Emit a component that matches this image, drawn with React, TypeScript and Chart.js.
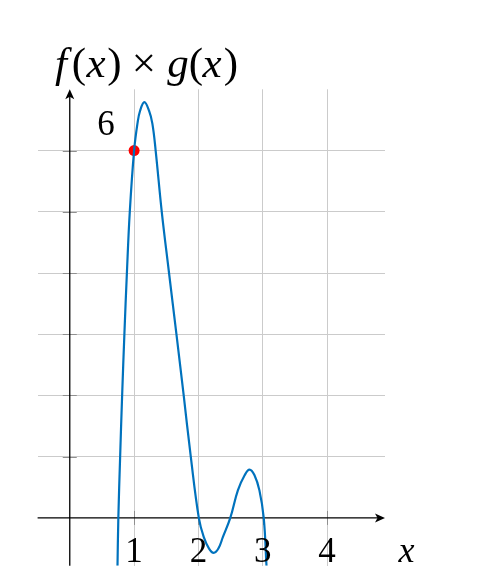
import React, { useEffect, useRef } from "react";
import { Chart, registerables } from "chart.js";

Chart.register(...registerables);

// Curve f(x) × g(x)
const curveX = [0.742, 0.755, 0.783, 0.814, 0.849, 0.888, 0.933, 1.0, 1.052, 1.093, 1.16, 1.232, 1.284, 1.335, 1.43, 1.543, 1.658, 1.771, 1.881, 2.006, 2.082, 2.165, 2.237, 2.31, 2.381, 2.495, 2.613, 2.72, 2.794, 2.87, 2.948, 3.015, 3.058];
const curveY = [-0.78, 0, 1, 2, 3, 4, 5, 6, 6.44, 6.65, 6.79, 6.65, 6.44, 6, 5, 4, 3, 2, 1, 0, -0.31, -0.5, -0.571, -0.5, -0.31, 0, 0.45, 0.7, 0.789, 0.7, 0.45, 0, -0.78];

// Highlighted point
const pointX = [1];
const pointY = [6];

// Ticks / grid
const xTicks = [1, 2, 3, 4];
const yTicks = [1, 2, 3, 4, 5, 6];
const xTickLabels = ["1", "2", "3", "4"];
const pointLabel = "6";
const xAxisLabel = "x";

const SERIF = '"Liberation Serif", "DejaVu Serif", serif';

const axesPlugin = {
  id: "texAxes",
  beforeDatasetsDraw(chart: any) {
    const { ctx, chartArea, scales } = chart;
    const xs = scales.x;
    const ys = scales.y;
    const x0 = xs.getPixelForValue(0);
    const y0 = ys.getPixelForValue(0);
    ctx.save();
    // tick marks
    ctx.strokeStyle = "#8f8f8f";
    ctx.lineWidth = 1;
    ctx.beginPath();
    for (const v of yTicks) {
      const py = Math.round(ys.getPixelForValue(v)) + 0.5;
      ctx.moveTo(x0 - 7, py);
      ctx.lineTo(x0 + 7, py);
    }
    for (const v of xTicks) {
      const px = Math.round(xs.getPixelForValue(v)) + 0.5;
      ctx.moveTo(px, y0 - 7);
      ctx.lineTo(px, y0 + 7);
    }
    ctx.stroke();
    // axis lines
    ctx.strokeStyle = "#000";
    ctx.lineWidth = 1.3;
    ctx.beginPath();
    ctx.moveTo(chartArea.left, y0);
    ctx.lineTo(chartArea.right - 3, y0);
    ctx.moveTo(x0, chartArea.bottom);
    ctx.lineTo(x0, chartArea.top + 3);
    ctx.stroke();
    // arrow heads
    ctx.fillStyle = "#000";
    const tipX = chartArea.right;
    ctx.beginPath();
    ctx.moveTo(tipX, y0);
    ctx.lineTo(tipX - 10, y0 - 4.5);
    ctx.lineTo(tipX - 7.5, y0);
    ctx.lineTo(tipX - 10, y0 + 4.5);
    ctx.closePath();
    ctx.fill();
    const tipY = chartArea.top;
    ctx.beginPath();
    ctx.moveTo(x0, tipY);
    ctx.lineTo(x0 - 4.5, tipY + 10);
    ctx.lineTo(x0, tipY + 7.5);
    ctx.lineTo(x0 + 4.5, tipY + 10);
    ctx.closePath();
    ctx.fill();
    ctx.restore();
  },
  afterDatasetsDraw(chart: any) {
    const { ctx, scales } = chart;
    const xs = scales.x;
    ctx.save();
    ctx.fillStyle = "#000";
    ctx.textAlign = "center";
    ctx.textBaseline = "alphabetic";
    // x tick labels
    ctx.font = `35px ${SERIF}`;
    xTicks.forEach((v, i) => {
      ctx.fillText(xTickLabels[i], xs.getPixelForValue(v), 561.5);
    });
    // point label
    ctx.fillText(pointLabel, 106, 134.5);
    // axis label
    ctx.font = `italic 36px ${SERIF}`;
    ctx.fillText(xAxisLabel, 406.5, 561.5);
    // title  f(x) × g(x)
    const glyphs: [string, number, boolean][] = [
      ["f", 61, true],
      ["(", 79, false],
      ["x", 96, true],
      [")", 114.5, false],
      ["×", 144, false],
      ["g", 178, true],
      ["(", 196, false],
      ["x", 212, true],
      [")", 231, false],
    ];
    for (const [g, cx, it] of glyphs) {
      ctx.font = `${it ? "italic " : ""}43px ${SERIF}`;
      ctx.fillText(g, cx, 76.5);
    }
    ctx.restore();
  },
};

export default function App() {
  const ref = useRef<HTMLCanvasElement | null>(null);
  useEffect(() => {
    document.body.style.margin = "0";
    const canvas = ref.current;
    if (!canvas) return;
    const chart = new Chart(canvas, {
      type: "scatter",
      data: {
        datasets: [
          {
            label: "f(x) × g(x)",
            data: curveX.map((x, i) => ({ x, y: curveY[i] })),
            showLine: true,
            borderColor: "#0072bd",
            borderWidth: 2.2,
            pointRadius: 0,
            tension: 0.4,
            fill: false,
          } as any,
          {
            label: "point",
            data: pointX.map((x, i) => ({ x, y: pointY[i] })),
            pointRadius: 5.5,
            pointBackgroundColor: "#ff0000",
            pointBorderColor: "#ff0000",
            pointBorderWidth: 0,
          },
        ],
      },
      options: {
        responsive: false,
        animation: false,
        devicePixelRatio: 1,
        layout: { padding: { left: 37.6, top: 89.3, right: 103, bottom: 21.3 } },
        plugins: {
          legend: { display: false },
          tooltip: { enabled: false },
          title: { display: false },
        },
        scales: {
          x: {
            type: "linear",
            min: -0.5,
            max: 4.9,
            afterBuildTicks: (s: any) => {
              s.ticks = xTicks.map((v) => ({ value: v }));
            },
            ticks: { display: false },
            grid: { color: "#cbcbcb", lineWidth: 1, drawTicks: false },
            border: { display: false },
          },
          y: {
            type: "linear",
            min: -0.78,
            max: 7,
            afterBuildTicks: (s: any) => {
              s.ticks = yTicks.map((v) => ({ value: v }));
            },
            ticks: { display: false },
            grid: { color: "#cbcbcb", lineWidth: 1, drawTicks: false },
            border: { display: false },
          },
        },
      },
      plugins: [axesPlugin],
    });
    return () => chart.destroy();
  }, []);
  return <canvas ref={ref} width={488} height={587} style={{ display: "block" }} />;
}
